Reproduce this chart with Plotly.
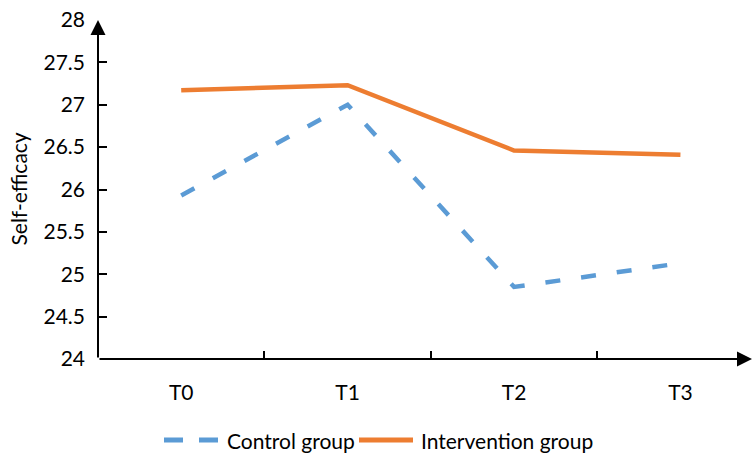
import plotly.graph_objects as go

# Self-efficacy scores at the four measurement points
timepoints = ["T0", "T1", "T2", "T3"]
control_scores = [25.93, 27.00, 24.85, 25.13]
intervention_scores = [27.17, 27.23, 26.46, 26.41]
y_ticks = [24, 24.5, 25, 25.5, 26, 26.5, 27, 27.5, 28]
series_names = ["Control group", "Intervention group"]

BLUE = "#5B9BD5"
ORANGE = "#ED7D31"
FONT = "Lato"
FS = 21

W, H = 754, 454
M_L, M_R, M_T, M_B = 98, 2, 20, 95
X_RANGE = [-0.5, 3.43]
Y_RANGE = [24, 28]
PW = W - M_L - M_R
PH = H - M_T - M_B


def px_to_paper_x(px):
    return (px - M_L) / PW


def px_to_paper_y(py):
    return (H - M_B - py) / PH


styles = [dict(color=BLUE, width=4.5, dash="15px,21px"),
          dict(color=ORANGE, width=4.5)]

fig = go.Figure()
for name, values, style in zip(series_names, [control_scores, intervention_scores], styles):
    fig.add_trace(go.Scatter(x=timepoints, y=values, name=name, mode="lines",
                             line=style, showlegend=False))

# Arrow-tipped axes
axis_arrow = dict(showarrow=True, arrowhead=2, arrowsize=1.5, arrowwidth=2,
                  arrowcolor="black", text="", xref="x", yref="y",
                  axref="x", ayref="y", standoff=0)
fig.add_annotation(x=X_RANGE[0], y=Y_RANGE[1], ax=X_RANGE[0], ay=Y_RANGE[0], **axis_arrow)
fig.add_annotation(x=X_RANGE[1], y=Y_RANGE[0], ax=X_RANGE[0], ay=Y_RANGE[0], **axis_arrow)

# Y-axis title
fig.add_annotation(
    text="Self-efficacy", textangle=-90, showarrow=False,
    xref="paper", yref="paper", x=px_to_paper_x(18), y=0.5,
    xanchor="center", yanchor="middle",
    font=dict(family=FONT, size=FS, color="black"),
)

# Legend row below the chart: long line keys followed by the series names
legend_y = px_to_paper_y(440)
legend_keys = [(164, 218, dict(color=BLUE, width=5, dash="19px,16px"), 225),
               (359, 413, dict(color=ORANGE, width=5), 419)]
for name, (x0, x1, style, tx) in zip(series_names, legend_keys):
    fig.add_shape(type="line", xref="paper", yref="paper",
                  x0=px_to_paper_x(x0), x1=px_to_paper_x(x1),
                  y0=legend_y, y1=legend_y, line=style)
    fig.add_annotation(text=name, showarrow=False, xref="paper", yref="paper",
                       x=px_to_paper_x(tx), y=legend_y,
                       xanchor="left", yanchor="middle",
                       font=dict(family=FONT, size=FS, color="black"))

fig.update_xaxes(
    type="category", range=X_RANGE, tickson="boundaries",
    ticks="inside", ticklen=8, tickwidth=1.5, tickcolor="black",
    showline=False, showgrid=False, zeroline=False,
    ticklabelstandoff=19,
    tickfont=dict(family=FONT, size=FS, color="black"),
)
fig.update_yaxes(
    range=Y_RANGE, tickvals=y_ticks, ticktext=[f"{v:g}" for v in y_ticks],
    ticks="inside", ticklen=9, tickwidth=1.5, tickcolor="black",
    showline=False, showgrid=False, zeroline=False,
    ticklabelstandoff=12,
    tickfont=dict(family=FONT, size=FS, color="black"),
)

fig.update_layout(
    width=W, height=H,
    margin=dict(l=M_L, r=M_R, t=M_T, b=M_B),
    plot_bgcolor="white", paper_bgcolor="white",
    showlegend=False,
)

fig.write_html("out.html")
